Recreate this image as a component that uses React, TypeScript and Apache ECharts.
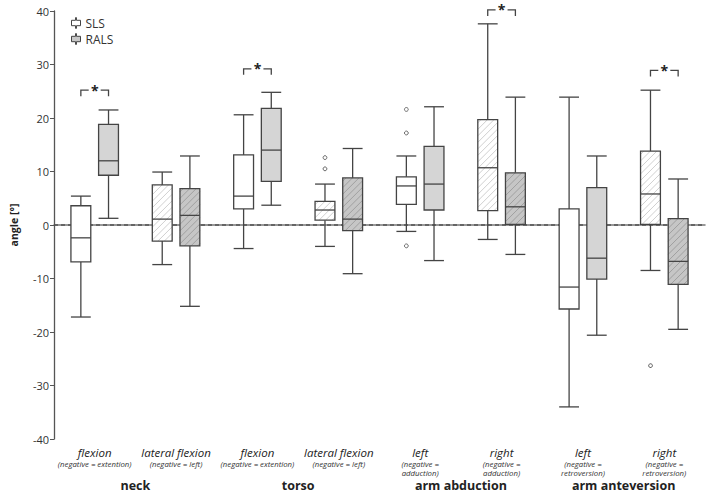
import React, { useEffect, useRef } from "react";
import * as echarts from "echarts";

const categories = ["flexion", "lateral flexion", "flexion", "lateral flexion", "left", "right", "left", "right"];
const subLabels = [
  ["(negative = extention)"],
  ["(negative = left)"],
  ["(negative = extention)"],
  ["(negative = left)"],
  ["(negative =", "adduction)"],
  ["(negative =", "adduction)"],
  ["(negative =", "retroversion)"],
  ["(negative =", "retroversion)"],
];
const groups = ["neck", "torso", "arm abduction", "arm anteversion"];

// [low, q1, median, q3, high]
const slsStats = [
  [-17.2, -6.9, -2.4, 3.6, 5.4],
  [-7.4, -3.0, 1.1, 7.5, 9.9],
  [-4.4, 3.0, 5.4, 13.1, 20.6],
  [-4.0, 0.9, 2.8, 4.4, 7.65],
  [-1.2, 3.85, 7.3, 9.0, 12.9],
  [-2.7, 2.7, 10.7, 19.7, 37.6],
  [-34.0, -15.7, -11.6, 3.0, 23.9],
  [-8.5, 0.1, 5.8, 13.8, 25.2],
];
const ralsStats = [
  [1.25, 9.3, 12.0, 18.8, 21.5],
  [-15.2, -3.9, 1.8, 6.8, 12.9],
  [3.7, 8.15, 14.0, 21.8, 24.8],
  [-9.1, -1.05, 1.1, 8.8, 14.3],
  [-6.65, 2.8, 7.65, 14.7, 22.1],
  [-5.5, 0.1, 3.4, 9.75, 23.9],
  [-20.6, -10.1, -6.2, 7.0, 12.9],
  [-19.5, -11.1, -6.8, 1.2, 8.6],
];
// [category index, value]
const slsOutliers = [
  [3, 12.6],
  [3, 10.5],
  [4, 21.6],
  [4, 17.2],
  [4, -3.9],
  [7, -26.2],
];
// [category index, bracket level]
const significance = [
  [0, 25.2],
  [2, 29.2],
  [5, 40.2],
  [7, 28.9],
];
const referenceLine = [[0, 0]];

const FONT = "'Open Sans', 'DejaVu Sans', sans-serif";
const STROKE = "#444";
const OFFSET = 0.17;
const HALF_W = 0.122;

function hatchLines(x0: number, y0: number, w: number, h: number, color: string) {
  const out: any[] = [];
  const step = 6.5;
  for (let c = x0 + y0 + step / 2; c < x0 + w + y0 + h; c += step) {
    const xa = Math.max(x0, c - (y0 + h));
    const xb = Math.min(x0 + w, c - y0);
    if (xb > xa) {
      out.push({
        type: "line",
        shape: { x1: xa, y1: c - xa, x2: xb, y2: c - xb },
        style: { stroke: color, lineWidth: 0.9 },
        silent: true,
      });
    }
  }
  return out;
}

function makeBoxRender(side: number, gray: boolean) {
  return (params: any, api: any) => {
    const cat = api.value(0);
    const band = api.size([1, 0])[0];
    const cx = api.coord([cat, 0])[0] + side * band * OFFSET;
    const half = band * HALF_W;
    const yLow = api.coord([cat, api.value(1)])[1];
    const yQ1 = api.coord([cat, api.value(2)])[1];
    const yMed = api.coord([cat, api.value(3)])[1];
    const yQ3 = api.coord([cat, api.value(4)])[1];
    const yHigh = api.coord([cat, api.value(5)])[1];
    const hatched = cat % 2 === 1;
    let fill = gray ? "#d5d5d5" : "#ffffff";
    let hatchColor = "#c9c9c9";
    if (gray && hatched) {
      fill = "#c6c6c6";
      hatchColor = "#9c9c9c";
    }
    const ls = { stroke: STROKE, lineWidth: 1.3 };
    const children: any[] = [
      { type: "line", shape: { x1: cx, y1: yQ3, x2: cx, y2: yHigh }, style: ls },
      { type: "line", shape: { x1: cx, y1: yQ1, x2: cx, y2: yLow }, style: ls },
      { type: "line", shape: { x1: cx - half, y1: yHigh, x2: cx + half, y2: yHigh }, style: ls },
      { type: "line", shape: { x1: cx - half, y1: yLow, x2: cx + half, y2: yLow }, style: ls },
      {
        type: "rect",
        shape: { x: cx - half, y: yQ3, width: half * 2, height: yQ1 - yQ3 },
        style: { fill, stroke: "none" },
      },
    ];
    if (hatched) {
      children.push(...hatchLines(cx - half, yQ3, half * 2, yQ1 - yQ3, hatchColor));
    }
    children.push(
      {
        type: "rect",
        shape: { x: cx - half, y: yQ3, width: half * 2, height: yQ1 - yQ3 },
        style: { fill: "none", stroke: STROKE, lineWidth: 1.3 },
      },
      { type: "line", shape: { x1: cx - half, y1: yMed, x2: cx + half, y2: yMed }, style: ls }
    );
    return { type: "group", children };
  };
}

const outlierRender = (params: any, api: any) => {
  const cat = api.value(0);
  const band = api.size([1, 0])[0];
  const p = api.coord([cat, api.value(1)]);
  return {
    type: "circle",
    shape: { cx: p[0] - band * OFFSET, cy: p[1], r: 1.9 },
    style: { fill: "#fff", stroke: "#666", lineWidth: 1 },
  };
};

const bracketRender = (params: any, api: any) => {
  const cat = api.value(0);
  const band = api.size([1, 0])[0];
  const p = api.coord([cat, api.value(1)]);
  const xc = p[0];
  const y = p[1];
  const xl = xc - band * OFFSET;
  const xr = xc + band * OFFSET;
  const st = { stroke: "#444", lineWidth: 1.3, fill: "none" };
  return {
    type: "group",
    children: [
      { type: "polyline", shape: { points: [[xl, y + 6], [xl, y], [xc - 6, y]] }, style: st },
      { type: "polyline", shape: { points: [[xc + 6, y], [xr, y], [xr, y + 6]] }, style: st },
      {
        type: "text",
        x: xc,
        y: Math.max(1, y - 7),
        style: {
          text: "*",
          fontSize: 14,
          fontWeight: "bold",
          fontFamily: FONT,
          fill: "#222",
          align: "center",
          verticalAlign: "top",
        },
      },
    ],
  };
};

const zeroLineRender = (params: any, api: any) => {
  const cs = params.coordSys;
  const y = api.coord([api.value(0), api.value(1)])[1];
  return {
    type: "line",
    shape: { x1: cs.x, y1: y, x2: cs.x + cs.width, y2: y },
    style: { stroke: "#333", lineWidth: 1.2, lineDash: [4, 3] },
  };
};

const ICON =
  "path://M4.5,0 L5.5,0 L5.5,3 L10,3 L10,9 L5.5,9 L5.5,12 L4.5,12 L4.5,9 L0,9 L0,3 L4.5,3 Z";

export default function App() {
  const ref = useRef<HTMLDivElement>(null);
  useEffect(() => {
    if (!ref.current) return;
    const chart = echarts.init(ref.current, null, { renderer: "svg" });
    const option: any = {
      animation: false,
      textStyle: { fontFamily: FONT },
      grid: { left: 45, right: 3, top: 11, bottom: 57, containLabel: false },
      legend: {
        orient: "vertical",
        left: 66,
        top: 12,
        itemWidth: 9,
        itemHeight: 12,
        itemGap: 4,
        textStyle: { fontSize: 12, color: "#333", fontFamily: FONT },
        data: [
          { name: "SLS", icon: ICON, itemStyle: { color: "#fff", borderColor: "#444", borderWidth: 1 } },
          { name: "RALS", icon: ICON, itemStyle: { color: "#c8c8c8", borderColor: "#444", borderWidth: 1 } },
        ],
      },
      xAxis: [
        {
          type: "category",
          data: categories,
          position: "bottom",
          axisLine: { show: true, lineStyle: { color: "#777", width: 1.5 } },
          axisTick: { show: false },
          axisLabel: {
            interval: 0,
            margin: 7,
            formatter: (v: string, i: number) =>
              ["{a|" + v + "}", ...subLabels[i].map((s) => "{b|" + s + "}")].join("\n"),
            rich: {
              a: { fontSize: 11.5, fontStyle: "italic", color: "#222", lineHeight: 13, fontFamily: FONT },
              b: { fontSize: 7.8, fontStyle: "italic", color: "#333", lineHeight: 9.5, fontFamily: FONT },
            },
          },
        },
        {
          type: "category",
          data: groups,
          position: "bottom",
          offset: 33,
          axisLine: { show: false },
          axisTick: { show: false },
          axisLabel: {
            interval: 0,
            margin: 7,
            fontSize: 12.5,
            fontWeight: "bold",
            color: "#222",
            fontFamily: FONT,
          },
        },
      ],
      yAxis: {
        type: "value",
        min: -40,
        max: 40,
        interval: 10,
        name: "angle [°]",
        nameLocation: "middle",
        nameGap: 35,
        nameTextStyle: { fontSize: 10.5, fontWeight: "bold", color: "#222", fontFamily: FONT },
        axisLine: { show: true, lineStyle: { color: "#555", width: 1.3 } },
        axisTick: { show: true, length: 4, lineStyle: { color: "#555" } },
        axisLabel: { fontSize: 11, color: "#333", margin: 5, fontFamily: FONT },
        splitLine: { show: false },
      },
      series: [
        {
          name: "zero",
          type: "custom",
          renderItem: zeroLineRender,
          encode: { x: 0, y: 1 },
          data: referenceLine,
          silent: true,
          z: 1,
        },
        {
          name: "SLS",
          type: "custom",
          renderItem: makeBoxRender(-1, false),
          encode: { x: 0, y: [1, 2, 3, 4, 5] },
          itemStyle: { color: "#fff" },
          data: slsStats.map((s, i) => [i, ...s]),
          z: 3,
        },
        {
          name: "RALS",
          type: "custom",
          renderItem: makeBoxRender(1, true),
          encode: { x: 0, y: [1, 2, 3, 4, 5] },
          itemStyle: { color: "#c8c8c8" },
          data: ralsStats.map((s, i) => [i, ...s]),
          z: 3,
        },
        {
          name: "SLS outliers",
          type: "custom",
          renderItem: outlierRender,
          encode: { x: 0, y: 1 },
          data: slsOutliers,
          z: 4,
        },
        {
          name: "significance",
          type: "custom",
          renderItem: bracketRender,
          encode: { x: 0, y: 1 },
          clip: false,
          data: significance,
          z: 4,
        },
      ],
    };
    chart.setOption(option);
    return () => chart.dispose();
  }, []);
  return (
    <div
      ref={ref}
      style={{ position: "absolute", left: 0, top: 0, width: 708, height: 496, background: "#fff" }}
    />
  );
}
